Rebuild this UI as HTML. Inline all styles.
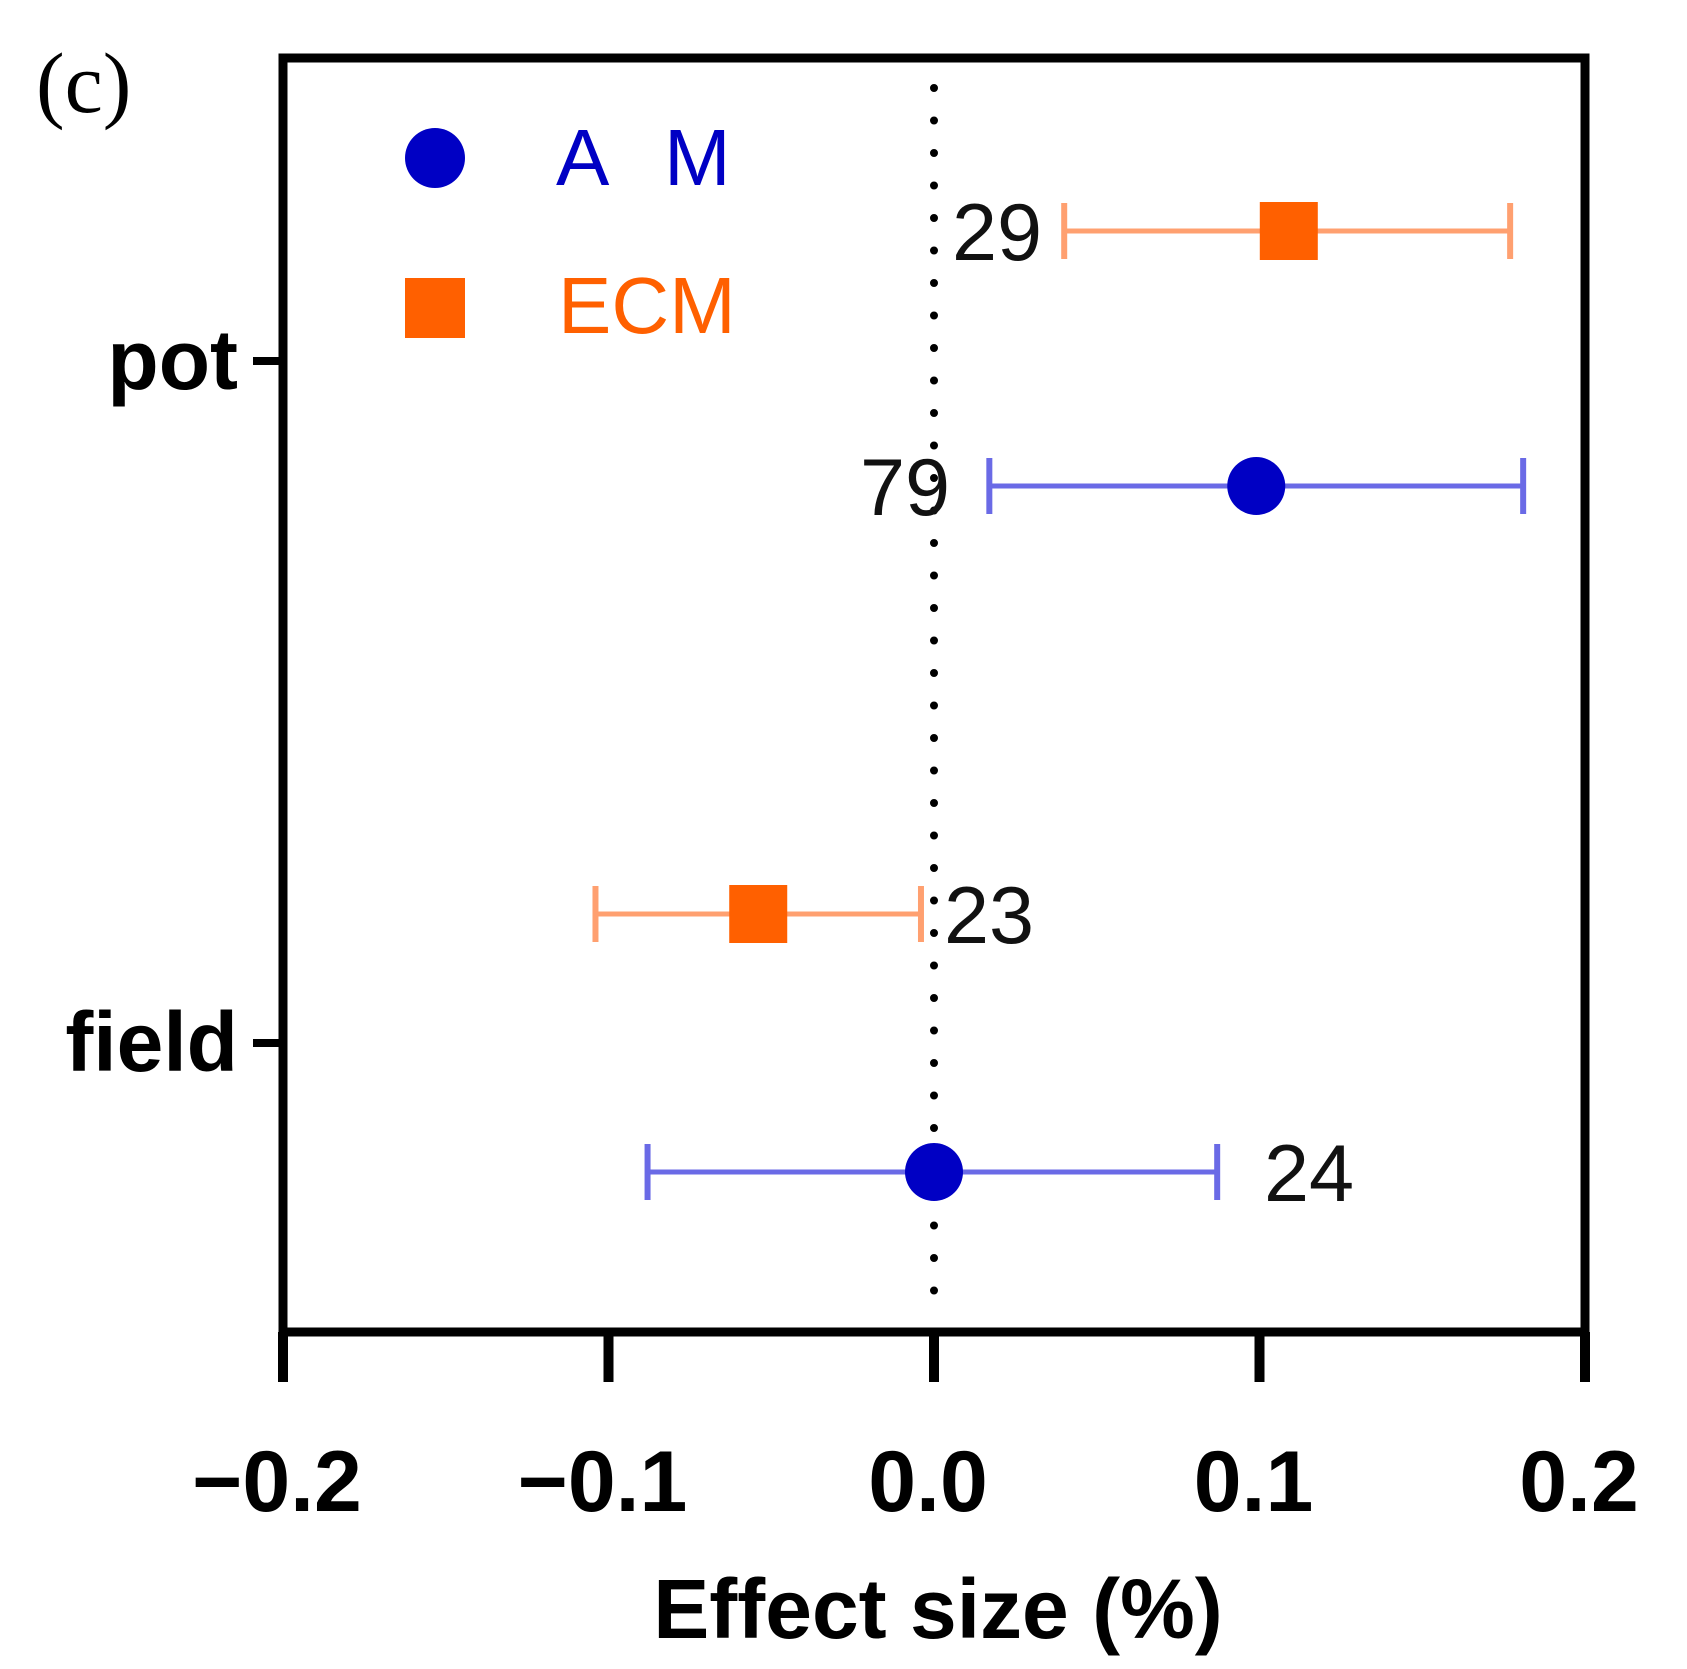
<!DOCTYPE html>
<html><head><meta charset="utf-8"><style>
html,body{margin:0;padding:0;background:#fff}
svg{display:block}
</style></head><body>
<svg id="chart" width="1687" height="1669" viewBox="0 0 1687 1669" xmlns="http://www.w3.org/2000/svg" font-family="Liberation Sans, Arial, sans-serif">
<text x="36" y="112" style="font-family:'Liberation Serif',serif" font-size="86" fill="#000">(c)</text>
<g id="plot"></g>
</svg>
<script>
const tickValues = [-0.2, -0.1, 0.0, 0.1, 0.2];
const tickLabels = ["\u22120.2", "\u22120.1", "0.0", "0.1", "0.2"];
const categories = ["pot", "field"];
const seriesNames = ["A", "M", "ECM"];
const means = [0.109, 0.099, -0.054, 0.0];
const lowers = [0.040, 0.017, -0.104, -0.088];
const uppers = [0.177, 0.181, -0.004, 0.087];
const counts = ["29", "79", "23", "24"];
const rowSeries = [1, 0, 1, 0];

const X0 = 283, X1 = 1585, YT = 58, YB = 1332;
function xs(v){ return X0 + (v + 0.2) / 0.4 * (X1 - X0); }
const catY = [361, 1043];
const rowY = [231, 486, 914, 1172];
const colors = ["#0000c4", "#ff6000"];
const barColors = ["#6a6ae6", "#ffa070"];
const NS = "http://www.w3.org/2000/svg";
const g = document.getElementById('plot');
function el(tag, attrs, parent){ const e = document.createElementNS(NS, tag); for (const k in attrs) e.setAttribute(k, attrs[k]); (parent||g).appendChild(e); return e; }

const frame = el('rect', {x:X0, y:YT, width:X1-X0, height:YB-YT, fill:'none', stroke:'#000', 'stroke-width':9});



const zl = el('line', {x1:xs(0), x2:xs(0), y1:88, y2:1322, stroke:'#000', 'stroke-width':8, 'stroke-dasharray':'0 32.5', 'stroke-linecap':'round'});



tickValues.forEach((v, i) => {
  const t = el('line', {x1:xs(v), x2:xs(v), y1:YB, y2:1382, stroke:'#000', 'stroke-width':10});
  
  
  const tl = el('text', {x:xs(v)-6, y:1511, 'text-anchor':'middle', 'font-size':86, 'font-weight':'bold', fill:'#000'});
  tl.textContent = tickLabels[i];
  
  
});
const xt = el('text', {x:938, y:1638, 'text-anchor':'middle', 'font-size':84, 'font-weight':'bold', fill:'#000'});
xt.textContent = 'Effect size (%)';



categories.forEach((c, i) => {
  const t = el('line', {x1:253, x2:X0, y1:catY[i], y2:catY[i], stroke:'#000', 'stroke-width':8});
  
  
  const tl = el('text', {x:238, y:catY[i]+28, 'text-anchor':'end', 'font-size':84, 'font-weight':'bold', fill:'#000'});
  tl.textContent = c;
  
  
});

means.forEach((m, i) => {
  const s = rowSeries[i], y = rowY[i];
  const bc = barColors[s];
  const ln = el('line', {x1:xs(lowers[i]), x2:xs(uppers[i]), y1:y, y2:y, stroke:bc, 'stroke-width':5});
  
  
  [lowers[i], uppers[i]].forEach(v => {
    const cp = el('line', {x1:xs(v), x2:xs(v), y1:y-28, y2:y+28, stroke:bc, 'stroke-width':6});
    
    
  });
  let mk;
  if (s === 0) mk = el('circle', {cx:xs(m), cy:y, r:29, fill:colors[0]});
  else mk = el('rect', {x:xs(m)-29, y:y-29, width:58, height:58, fill:colors[1]});
  
  
});
const countX = [952, 860, 944, 1264];
counts.forEach((c, i) => {
  const t = el('text', {x:countX[i], y:rowY[i]+29, 'font-size':81, fill:'#111'});
  t.textContent = c;
  
  
});

const lc = el('circle', {cx:435, cy:158, r:30, fill:colors[0]});


const lt1 = el('text', {x:556, y:185, 'font-size':80, fill:colors[0]});
lt1.textContent = seriesNames[0];


const lt1b = el('text', {x:664, y:185, 'font-size':80, fill:colors[0]});
lt1b.textContent = seriesNames[1];


const ls = el('rect', {x:405, y:278, width:60, height:60, fill:colors[1]});


const lt2 = el('text', {x:558, y:333, 'font-size':80, fill:colors[1]});
lt2.textContent = seriesNames[2];


</script>
</body></html>
